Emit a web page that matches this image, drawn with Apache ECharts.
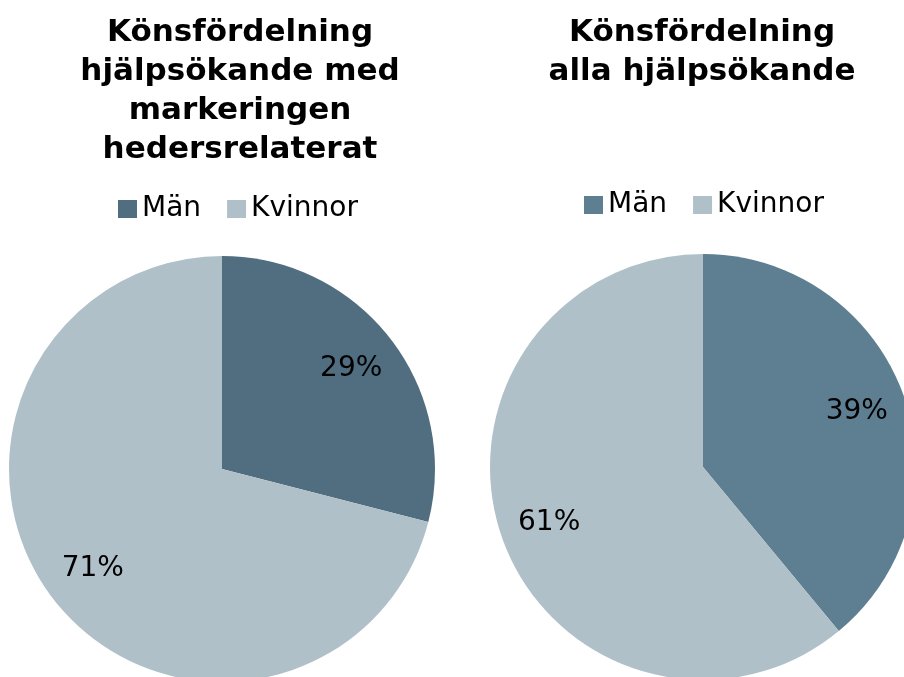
<html>
    <head>
        <meta charset="utf-8">
        <script src="https://cdn.jsdelivr.net/npm/echarts@6/dist/echarts.min.js"></script>
        <style>
            html, body { margin: 0; padding: 0; background: #fff; }
            #main { width: 904px; height: 677px; }
        </style>
    </head>
    <body>
        <div id="main"></div>
        <script>
            var categories = ['Män', 'Kvinnor'];
            var honourValues = [29, 71];   // hjälpsökande med markeringen hedersrelaterat
            var allValues = [39, 61];      // alla hjälpsökande
            var leftTitle = 'Könsfördelning\nhjälpsökande med\nmarkeringen\nhedersrelaterat';
            var rightTitle = 'Könsfördelning\nalla hjälpsökande';

            var leftColors = ['#506e80', '#b0c0c9'];
            var rightColors = ['#5e7f91', '#b0c0c9'];
            var font = 'Verdana, "DejaVu Sans", sans-serif';

            var chart = echarts.init(document.getElementById('main'));

            function toData(values, colors) {
                return categories.map(function (name, i) {
                    return { name: name, value: values[i], itemStyle: { color: colors[i] } };
                });
            }

            function pie(center, values, colors) {
                return {
                    type: 'pie',
                    center: center,
                    radius: [0, 213],
                    startAngle: 90,
                    clockwise: true,
                    silent: true,
                    label: { show: false },
                    labelLine: { show: false },
                    data: toData(values, colors)
                };
            }

            // transparent ring only used to put the percent labels at 3/4 radius
            function labels(center, values) {
                return {
                    type: 'pie',
                    center: center,
                    radius: [108, 213],
                    startAngle: 90,
                    clockwise: true,
                    silent: true,
                    itemStyle: { color: 'rgba(0,0,0,0)' },
                    label: {
                        show: true,
                        position: 'inside',
                        formatter: '{c}%',
                        color: '#000',
                        fontFamily: font,
                        fontSize: 28
                    },
                    labelLine: { show: false },
                    data: categories.map(function (name, i) {
                        return { name: name, value: values[i] };
                    })
                };
            }

            function legend(x, top, colors) {
                return {
                    left: x,
                    top: top,
                    itemWidth: 19,
                    itemHeight: 18,
                    itemGap: 26,
                    icon: 'rect',
                    selectedMode: false,
                    textStyle: { fontFamily: font, fontSize: 28, color: '#000', padding: [0, 0, 0, 0] },
                    data: categories.map(function (name, i) {
                        return { name: name, itemStyle: { color: colors[i] } };
                    })
                };
            }

            var titleStyle = { fontFamily: font, fontWeight: 'bold', fontSize: 31, lineHeight: 39, color: '#000' };

            chart.setOption({
                animation: false,
                title: [{
                    text: leftTitle,
                    left: 235,
                    top: 8,
                    textAlign: 'center',
                    textStyle: titleStyle
                }, {
                    text: rightTitle,
                    left: 697,
                    top: 8,
                    textAlign: 'center',
                    textStyle: titleStyle
                }],
                legend: [
                    legend(113, 190, leftColors),
                    legend(579, 186, rightColors)
                ],
                series: [
                    pie([222, 469], honourValues, leftColors),
                    pie([703, 467], allValues, rightColors),
                    labels([222, 469], honourValues),
                    labels([703, 467], allValues)
                ]
            });
        </script>
    </body>
</html>
